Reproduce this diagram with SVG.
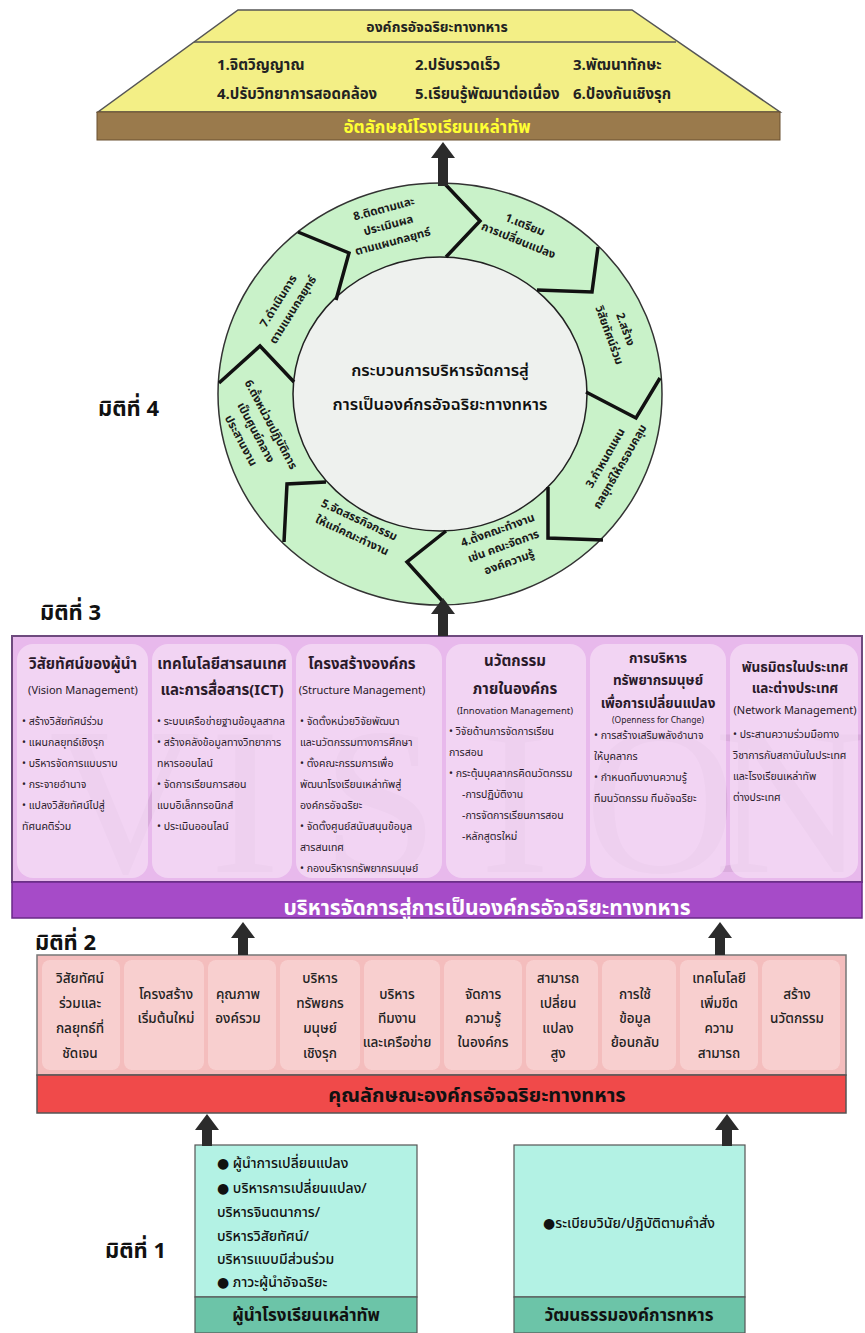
<svg xmlns="http://www.w3.org/2000/svg" width="865" height="1333" viewBox="0 0 865 1333">
  <defs>
    <style>
      text { font-family: "Noto Sans Thai", "Noto Sans Thai UI", "Noto Sans", "DejaVu Sans", sans-serif; fill: #222; }
      .c { text-anchor: middle; }
      .b { font-weight: bold; }
      .dim { font-size: 22px; font-weight: bold; fill: #111; }
      .top-item { font-size: 15px; font-weight: bold; }
      .ring { font-size: 11.5px; font-weight: bold; text-anchor: middle; fill: #1a1a1a; }
      .head3 { font-size: 15px; font-weight: bold; text-anchor: middle; fill: #2a1a2a; }
      .eng3 { font-size: 11px; text-anchor: middle; fill: #2a1a2a; }
      .bul3 { font-size: 10.5px; fill: #2a1a2a; }
      .d2 { font-size: 13.5px; font-weight: 500; text-anchor: middle; fill: #222; }
      .d1 { font-size: 14px; font-weight: 500; fill: #111; }
      .sep { fill: none; stroke: #111; stroke-width: 3.5; stroke-linejoin: miter; }
      .arrow { fill: #2b2b2b; }
      .col3 { fill: #f7e0f7; fill-opacity: 0.7; }
      .col2 { fill: #f9d6d6; fill-opacity: 0.75; }
      .mark { font-family: "Liberation Serif", serif; font-size: 210px; fill: #b890b8; fill-opacity: 0.3; text-anchor: middle; }
    </style>
  </defs>

  <rect width="865" height="1333" fill="#ffffff"/>

  <!-- Top: military smart organisation -->
  <g id="smart-org">
    <polygon points="238,10 632,10 780,112 98,112" fill="#f3ef86" stroke="#555" stroke-width="1.5"/>
    <line x1="194" y1="42" x2="676" y2="42" stroke="#555" stroke-width="1.5"/>
    <text x="437" y="32" class="c b" font-size="14">องค์กรอัจฉริยะทางทหาร</text>
    <text x="217" y="70" class="top-item">1.จิตวิญญาณ</text>
    <text x="415" y="70" class="top-item">2.ปรับรวดเร็ว</text>
    <text x="573" y="70" class="top-item">3.พัฒนาทักษะ</text>
    <text x="217" y="99" class="top-item">4.ปรับวิทยาการสอดคล้อง</text>
    <text x="415" y="99" class="top-item">5.เรียนรู้พัฒนาต่อเนื่อง</text>
    <text x="573" y="99" class="top-item">6.ป้องกันเชิงรุก</text>
    <rect x="97" y="112" width="683" height="28" fill="#9a7a4c" stroke="#6a5030" stroke-width="1"/>
    <text x="437" y="133" class="c b" font-size="17" style="fill:#ffff33">อัตลักษณ์โรงเรียนเหล่าทัพ</text>
  </g>

  <!-- Dimension 4: management cycle -->
  <g id="dim4-cycle">
    <ellipse cx="440" cy="394" rx="222" ry="211" fill="#c9f2c9" stroke="#333" stroke-width="1.5"/>
    <ellipse cx="440" cy="394" rx="147" ry="137" fill="#eef1ee" stroke="#222" stroke-width="1.5"/>
    <polyline class="sep" points="444,183 480,221 446,257"/>
    <polyline class="sep" points="598,247 592,292 537,290"/>
    <polyline class="sep" points="660,378 636,418 586,392"/>
    <polyline class="sep" points="548,487 548,538 603,540"/>
    <polyline class="sep" points="446,531 407,562 446,605"/>
    <polyline class="sep" points="284,542 287,484 326,482"/>
    <polyline class="sep" points="219,383 260,346 294,382"/>
    <polyline class="sep" points="298,232 349,253 336,300"/>

    <text x="440" y="376" class="c" font-size="16.5" font-weight="600" style="fill:#111">กระบวนการบริหารจัดการสู่</text>
    <text x="440" y="410" class="c" font-size="16.5" font-weight="600" style="fill:#111">การเป็นองค์กรอัจฉริยะทางทหาร</text>

    <g transform="translate(522,232) rotate(22)">
      <text class="ring" y="-4">1.เตรียม</text>
      <text class="ring" y="13">การเปลี่ยนแปลง</text>
    </g>
    <g transform="translate(618,332) rotate(70)">
      <text class="ring" y="-4">2.สร้าง</text>
      <text class="ring" y="13">วิสัยทัศน์ร่วม</text>
    </g>
    <g transform="translate(612,462) rotate(-60)">
      <text class="ring" y="-4">3.กำหนดแผน</text>
      <text class="ring" y="13">กลยุทธ์ให้ครอบคลุม</text>
    </g>
    <g transform="translate(503,545) rotate(-20)">
      <text class="ring" y="-12">4.ตั้งคณะทำงาน</text>
      <text class="ring" y="5">เช่น คณะจัดการ</text>
      <text class="ring" y="22">องค์ความรู้</text>
    </g>
    <g transform="translate(356,527) rotate(25)">
      <text class="ring" y="-4">5.จัดสรรกิจกรรม</text>
      <text class="ring" y="13">ให้แก่คณะทำงาน</text>
    </g>
    <g transform="translate(257,432) rotate(62)">
      <text class="ring" y="-12">6.ตั้งหน่วยปฏิบัติการ</text>
      <text class="ring" y="5">เป็นศูนย์กลาง</text>
      <text class="ring" y="22">ประสานงาน</text>
    </g>
    <g transform="translate(285,305) rotate(-58)">
      <text class="ring" y="-4">7.ดำเนินการ</text>
      <text class="ring" y="13">ตามแผนกลยุทธ์</text>
    </g>
    <g transform="translate(388,224) rotate(-15)">
      <text class="ring" y="-12">8.ติดตามและ</text>
      <text class="ring" y="5">ประเมินผล</text>
      <text class="ring" y="22">ตามแผนกลยุทธ์</text>
    </g>
  </g>

  <!-- Dimension labels -->
  <g id="dim-labels">
    <text x="98" y="416" class="dim">มิติที่ 4</text>
    <text x="40" y="620" class="dim">มิติที่ 3</text>
    <text x="35" y="950" class="dim">มิติที่ 2</text>
    <text x="105" y="1258" class="dim">มิติที่ 1</text>
  </g>

  <!-- Dimension 3: management areas -->
  <g id="dim3-management">
    <rect x="12" y="636" width="850" height="246" fill="#e8b9ec" stroke="#6e4a7e" stroke-width="2"/>
    <text x="125" y="872" class="mark">V</text>
    <text x="245" y="872" class="mark">I</text>
    <text x="380" y="872" class="mark">S</text>
    <text x="515" y="872" class="mark">I</text>
    <text x="660" y="872" class="mark">O</text>
    <text x="790" y="872" class="mark">N</text>
    <rect class="col3" x="17" y="644" width="131" height="234" rx="16"/>
    <rect class="col3" x="152" y="644" width="140" height="234" rx="16"/>
    <rect class="col3" x="296" y="644" width="146" height="234" rx="16"/>
    <rect class="col3" x="446" y="644" width="140" height="234" rx="16"/>
    <rect class="col3" x="590" y="644" width="136" height="234" rx="16"/>
    <rect class="col3" x="730" y="644" width="128" height="234" rx="16"/>

    <g id="vision">
      <text x="83" y="669" class="head3">วิสัยทัศน์ของผู้นำ</text>
      <text x="83" y="694" class="eng3">(Vision Management)</text>
      <text x="22" y="725" class="bul3">• สร้างวิสัยทัศน์ร่วม</text>
      <text x="22" y="746" class="bul3">• แผนกลยุทธ์เชิงรุก</text>
      <text x="22" y="767" class="bul3">• บริหารจัดการแบบราบ</text>
      <text x="22" y="788" class="bul3">• กระจายอำนาจ</text>
      <text x="22" y="809" class="bul3">• แปลงวิสัยทัศน์ไปสู่</text>
      <text x="22" y="830" class="bul3">ทัศนคติร่วม</text>
    </g>
    <g id="ict">
      <text x="222" y="669" class="head3">เทคโนโลยีสารสนเทศ</text>
      <text x="222" y="695" class="head3">และการสื่อสาร(ICT)</text>
      <text x="157" y="725" class="bul3">• ระบบเครือข่ายฐานข้อมูลสากล</text>
      <text x="157" y="746" class="bul3">• สร้างคลังข้อมูลทางวิทยาการ</text>
      <text x="157" y="767" class="bul3">ทหารออนไลน์</text>
      <text x="157" y="788" class="bul3">•  จัดการเรียนการสอน</text>
      <text x="157" y="809" class="bul3">แบบอิเล็กทรอนิกส์</text>
      <text x="157" y="830" class="bul3">• ประเมินออนไลน์</text>
    </g>
    <g id="structure">
      <text x="362" y="669" class="head3">โครงสร้างองค์กร</text>
      <text x="362" y="694" class="eng3">(Structure Management)</text>
      <text x="300" y="725" class="bul3">• จัดตั้งหน่วยวิจัยพัฒนา</text>
      <text x="300" y="746" class="bul3">และนวัตกรรมทางการศึกษา</text>
      <text x="300" y="767" class="bul3">• ตั้งคณะกรรมการเพื่อ</text>
      <text x="300" y="788" class="bul3">พัฒนาโรงเรียนเหล่าทัพสู่</text>
      <text x="300" y="809" class="bul3">องค์กรอัจฉริยะ</text>
      <text x="300" y="830" class="bul3">• จัดตั้งศูนย์สนับสนุนข้อมูล</text>
      <text x="300" y="851" class="bul3">สารสนเทศ</text>
      <text x="300" y="872" class="bul3">• กองบริหารทรัพยากรมนุษย์</text>
    </g>
    <g id="innovation">
      <text x="515" y="666" class="head3">นวัตกรรม</text>
      <text x="515" y="694" class="head3">ภายในองค์กร</text>
      <text x="515" y="714" class="eng3" style="font-size:9.5px">(Innovation Management)</text>
      <text x="449" y="735" class="bul3">• วิจัยด้านการจัดการเรียน</text>
      <text x="449" y="756" class="bul3">การสอน</text>
      <text x="449" y="777" class="bul3">• กระตุ้นบุคลากรคิดนวัตกรรม</text>
      <text x="462" y="798" class="bul3">-การปฏิบัติงาน</text>
      <text x="462" y="819" class="bul3">-การจัดการเรียนการสอน</text>
      <text x="462" y="840" class="bul3">-หลักสูตรใหม่</text>
    </g>
    <g id="hr-change">
      <text x="658" y="663" class="head3" style="font-size:13.5px">การบริหาร</text>
      <text x="658" y="685" class="head3" style="font-size:13.5px">ทรัพยากรมนุษย์</text>
      <text x="658" y="708" class="head3" style="font-size:13.5px">เพื่อการเปลี่ยนแปลง</text>
      <text x="658" y="723" class="eng3" style="font-size:8.5px">(Openness for Change)</text>
      <text x="594" y="739" class="bul3">• การสร้างเสริมพลังอำนาจ</text>
      <text x="594" y="760" class="bul3">ให้บุคลากร</text>
      <text x="594" y="781" class="bul3">• กำหนดทีมงานความรู้</text>
      <text x="594" y="802" class="bul3">ทีมนวัตกรรม ทีมอัจฉริยะ</text>
    </g>
    <g id="network">
      <text x="795" y="672" class="head3" style="font-size:13.5px">พันธมิตรในประเทศ</text>
      <text x="795" y="693" class="head3" style="font-size:13.5px">และต่างประเทศ</text>
      <text x="795" y="714" class="eng3">(Network Management)</text>
      <text x="733" y="738" class="bul3">•  ประสานความร่วมมือทาง</text>
      <text x="733" y="759" class="bul3">วิชาการกับสถาบันในประเทศ</text>
      <text x="733" y="780" class="bul3">และโรงเรียนเหล่าทัพ</text>
      <text x="733" y="801" class="bul3">ต่างประเทศ</text>
    </g>

    <rect x="12" y="882" width="850" height="36" fill="#a64bc8" stroke="#6a2a88" stroke-width="1.5"/>
    <text x="487" y="915" class="c b" font-size="21" style="fill:#ffffff">บริหารจัดการสู่การเป็นองค์กรอัจฉริยะทางทหาร</text>
  </g>

  <!-- Dimension 2: characteristics -->
  <g id="dim2-characteristics">
    <rect x="37" y="955" width="809" height="120" fill="#f4bdbd" stroke="#777" stroke-width="1.5"/>
    <rect class="col2" x="42" y="960" width="78" height="110" rx="8"/>
    <rect class="col2" x="124" y="960" width="80" height="110" rx="8"/>
    <rect class="col2" x="208" y="960" width="68" height="110" rx="8"/>
    <rect class="col2" x="280" y="960" width="80" height="110" rx="8"/>
    <rect class="col2" x="364" y="960" width="76" height="110" rx="8"/>
    <rect class="col2" x="444" y="960" width="78" height="110" rx="8"/>
    <rect class="col2" x="526" y="960" width="72" height="110" rx="8"/>
    <rect class="col2" x="602" y="960" width="74" height="110" rx="8"/>
    <rect class="col2" x="680" y="960" width="78" height="110" rx="8"/>
    <rect class="col2" x="762" y="960" width="78" height="110" rx="8"/>

    <text class="d2" x="80" y="983">วิสัยทัศน์</text>
    <text class="d2" x="80" y="1008">ร่วมและ</text>
    <text class="d2" x="80" y="1033">กลยุทธ์ที่</text>
    <text class="d2" x="80" y="1058">ชัดเจน</text>

    <text class="d2" x="166" y="999">โครงสร้าง</text>
    <text class="d2" x="166" y="1023">เริ่มต้นใหม่</text>

    <text class="d2" x="238" y="999">คุณภาพ</text>
    <text class="d2" x="238" y="1023">องค์รวม</text>

    <text class="d2" x="320" y="983">บริหาร</text>
    <text class="d2" x="320" y="1008">ทรัพยกร</text>
    <text class="d2" x="320" y="1033">มนุษย์</text>
    <text class="d2" x="320" y="1058">เชิงรุก</text>

    <text class="d2" x="397" y="999">บริหาร</text>
    <text class="d2" x="397" y="1023">ทีมงาน</text>
    <text class="d2" x="397" y="1047">และเครือข่าย</text>

    <text class="d2" x="483" y="999">จัดการ</text>
    <text class="d2" x="483" y="1023">ความรู้</text>
    <text class="d2" x="483" y="1047">ในองค์กร</text>

    <text class="d2" x="558" y="983">สามารถ</text>
    <text class="d2" x="558" y="1008">เปลี่ยน</text>
    <text class="d2" x="558" y="1033">แปลง</text>
    <text class="d2" x="558" y="1058">สูง</text>

    <text class="d2" x="635" y="999">การใช้</text>
    <text class="d2" x="635" y="1023">ข้อมูล</text>
    <text class="d2" x="635" y="1047">ย้อนกลับ</text>

    <text class="d2" x="719" y="983">เทคโนโลยี</text>
    <text class="d2" x="719" y="1008">เพิ่มขีด</text>
    <text class="d2" x="719" y="1033">ความ</text>
    <text class="d2" x="719" y="1058">สามารถ</text>

    <text class="d2" x="797" y="999">สร้าง</text>
    <text class="d2" x="797" y="1023">นวัตกรรม</text>

    <rect x="37" y="1075" width="809" height="38" fill="#f04a4a" stroke="#555" stroke-width="1.5"/>
    <text x="477" y="1102" class="c b" font-size="20" style="fill:#111">คุณลักษณะองค์กรอัจฉริยะทางทหาร</text>
  </g>

  <!-- Dimension 1: leader of the service academy -->
  <g id="dim1-leader">
    <rect x="195" y="1145" width="222" height="152" fill="#b3f2e4" stroke="#555" stroke-width="1.2"/>
    <text x="217" y="1168" class="d1">● ผู้นำการเปลี่ยนแปลง</text>
    <text x="217" y="1193" class="d1">● บริหารการเปลี่ยนแปลง/</text>
    <text x="217" y="1217" class="d1">บริหารจินตนาการ/</text>
    <text x="217" y="1241" class="d1">บริหารวิสัยทัศน์/</text>
    <text x="217" y="1264" class="d1">บริหารแบบมีส่วนร่วม</text>
    <text x="217" y="1287" class="d1">● ภาวะผู้นำอัจฉริยะ</text>
    <rect x="195" y="1297" width="222" height="36" fill="#6cc4a8" stroke="#555" stroke-width="1.2"/>
    <text x="306" y="1321" class="c b" font-size="17" style="fill:#111">ผู้นำโรงเรียนเหล่าทัพ</text>
  </g>

  <!-- Dimension 1: military organisational culture -->
  <g id="dim1-culture">
    <rect x="514" y="1145" width="231" height="152" fill="#b3f2e4" stroke="#555" stroke-width="1.2"/>
    <text x="629" y="1228" class="d1 c">●ระเบียบวินัย/ปฏิบัติตามคำสั่ง</text>
    <rect x="514" y="1297" width="231" height="36" fill="#6cc4a8" stroke="#555" stroke-width="1.2"/>
    <text x="629" y="1321" class="c b" font-size="17" style="fill:#111">วัฒนธรรมองค์การทหาร</text>
  </g>

  <!-- Connectors: upward block arrows -->
  <g id="connectors">
    <path class="arrow" d="M438,186 V158 H431 L443,142 L455,158 H448 V186 Z"/>
    <path class="arrow" d="M438,636 V614 H431 L443,598 L455,614 H448 V636 Z"/>
    <path class="arrow" d="M238,955 V938 H231 L243,922 L255,938 H248 V955 Z"/>
    <path class="arrow" d="M715,955 V938 H708 L720,922 L732,938 H725 V955 Z"/>
    <path class="arrow" d="M202,1146 V1130 H195 L207,1114 L219,1130 H212 V1146 Z"/>
    <path class="arrow" d="M722,1146 V1130 H715 L727,1114 L739,1130 H732 V1146 Z"/>
  </g>
</svg>
